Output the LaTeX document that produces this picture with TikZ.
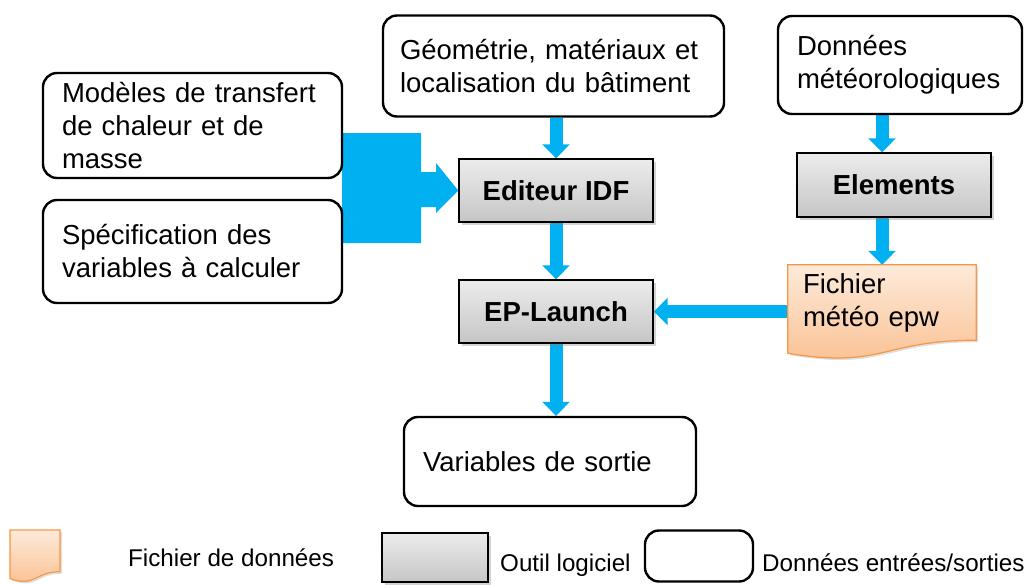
\documentclass[tikz,border=0pt]{standalone}
\usepackage{fontspec}
\setmainfont{Liberation Sans}
\usetikzlibrary{arrows.meta,positioning,calc,shadows,backgrounds}
\definecolor{flowblue}{RGB}{0,176,240}
\definecolor{fileedge}{RGB}{247,150,70}
\definecolor{filetop}{RGB}{253,234,218}
\definecolor{filebot}{RGB}{250,191,143}
\newcommand{\bigtxt}{\fontsize{27.5}{33}\selectfont}
\newcommand{\legtxt}{\fontsize{24.2}{28}\selectfont}
\tikzset{
  % boîtes entrées / sorties
  iobox/.style={
    draw=black,
    line width=2.4pt,
    rounded corners=14pt,
    fill=white,
    align=left,
    inner xsep=19pt,
    inner ysep=0pt,
    font=\bigtxt
  },
  % outils logiciels
  toolbox/.style={
    draw=black,
    line width=1.4pt,
    top color=gray!15,
    bottom color=gray!45,
    drop shadow={shadow xshift=2.5pt, shadow yshift=-2.5pt, opacity=0.35},
    minimum width=194pt,
    minimum height=63pt,
    inner sep=0pt,
    font=\bigtxt\bfseries
  },
  % fichier de données
  fileshade/.style={
    draw=fileedge,
    line width=1.2pt,
    top color=filetop,
    bottom color=filebot,
    drop shadow={shadow xshift=2pt, shadow yshift=-2pt, opacity=0.25}
  },
  % flèches
  flow/.style={draw=flowblue, line width=13pt, -{Triangle[width=27pt,length=14pt]}},
  legtext/.style={anchor=base west, inner sep=0pt, font=\legtxt},
}

\begin{document}
\begin{tikzpicture}[x=1pt,y=-1pt]
  \useasboundingbox (0,0) rectangle (1026,584);

  % Entrées
  \node[iobox, inner xsep=17pt, text width=307pt, minimum height=101pt] (geo) at (553.5,66)
    {Géométrie, matériaux et\\localisation du bâtiment};
  \node[iobox, text width=206pt, minimum height=98pt] (meteo) at (900,65)
    {Données\\météorologiques};
  \node[iobox, text width=261pt, minimum height=105pt] (mod) at (192.5,125.5)
    {Modèles de transfert\\de chaleur et de\\masse};
  \node[iobox, text width=261pt, minimum height=103pt] (spec) at (192.5,251.5)
    {Spécification des\\variables à calculer};

  % Sortie
  \node[iobox, text width=254pt, minimum height=89pt] (var) at (550,461.5)
    {Variables de sortie};

  % Outils
  \node[toolbox] (edit) at (556,190.5) {Editeur IDF};
  \node[toolbox] (ep) at (556,311.5) {EP-Launch};
  \node[toolbox, minimum height=64pt] (elem) at (894,185) {Elements};

  % Fichier météo
  \node[minimum width=188pt, minimum height=75pt, inner xsep=15pt, inner ysep=0pt,
        text width=158pt, align=left, font=\bigtxt] (fich) at (882,302.5)
    {Fichier\\météo epw};

  \begin{scope}[on background layer]
    % Flèches
    \fill[flowblue] (342,133) -- (421,133) -- (421,172) -- (436,172) -- (436,163)
      -- (edit.west) -- (436,213) -- (436,207) -- (421,207) -- (421,243)
      -- (342,243) -- cycle;
    \draw[flow] (edit.north |- geo.south) -- (edit.north);
    \draw[flow] (edit) -- (ep);
    \draw[flow] (ep.south) -- (ep.south |- var.north);
    \draw[flow] (fich.north |- meteo.south) -- (fich.north |- elem.north);
    \draw[flow] (fich.north |- elem.south) -- (fich.north);
    \draw[flow] (fich.west |- ep.east) -- (ep.east);

    \shade[fileshade] (fich.north west) -- (fich.north east) -- (fich.south east)
      .. controls (fich.south) and ($(fich.south)+(0,29)$) .. ($(fich.south west)+(0,13)$)
      -- cycle;
  \end{scope}

  % Légende
  \shade[fileshade] (10,530) -- (60,530) -- (60,571.7)
    .. controls (35,571.7) and (35,587.6) .. (10,578.6) -- cycle;
  \node[legtext] (txtfile) at (128,566) {Fichier de données};

  \node[toolbox, minimum width=106pt, minimum height=49pt] (legtool) at (435,557.5) {};
  \node[legtext] (txttool) at (500,571) {Outil logiciel};

  \node[iobox, minimum width=108pt, minimum height=51pt] (legio) at (699,556) {};
  \node[legtext] (txtio) at (762,571) {Données entrées/sorties};
\end{tikzpicture}
\end{document}
